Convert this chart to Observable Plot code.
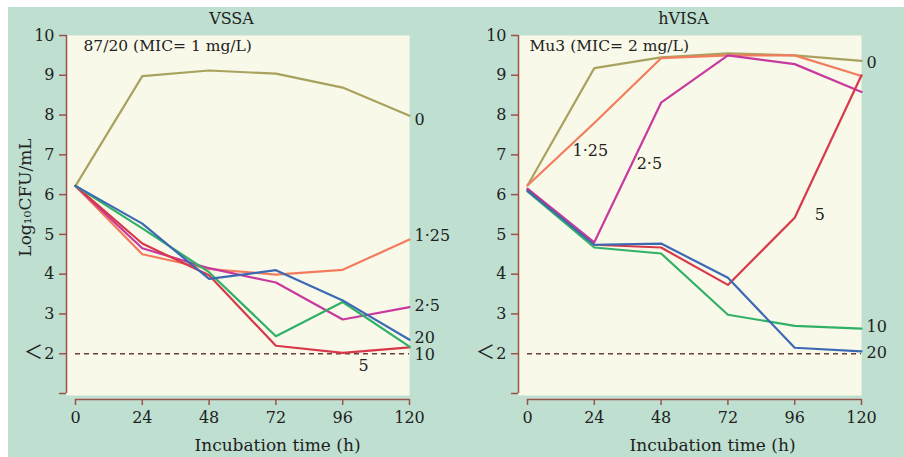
<!DOCTYPE html>
<html>
<head>
<meta charset="utf-8">
<script src="https://cdn.jsdelivr.net/npm/d3@7"></script>
<script src="https://cdn.jsdelivr.net/npm/@observablehq/plot@0.6"></script>
<style>
  html, body { margin: 0; padding: 0; background: #ffffff; }
  #wrap { position: relative; width: 904px; height: 457px; overflow: hidden; background: #ffffff; }
  #mint { position: absolute; left: 8px; top: 7px; right: 0; bottom: 0; background: #bfe0d1; }
  .panel { position: absolute; top: 0; }
</style>
</head>
<body>
<div id="wrap">
  <div id="mint"></div>
  <div class="panel" id="p1" style="left:0px"></div>
  <div class="panel" id="p2" style="left:452px"></div>
</div>
<script>
// ---- data ----
const hours = [0, 24, 48, 72, 96, 120];
const seriesNames = ["0", "1·25", "2·5", "5", "10", "20"];

// VSSA 87/20 (MIC = 1 mg/L)
const vssa0   = [6.22, 8.98, 9.12, 9.04, 8.69, 7.98];
const vssa125 = [6.22, 4.50, 4.13, 3.99, 4.11, 4.87];
const vssa25  = [6.22, 4.65, 4.15, 3.79, 2.86, 3.17];
const vssa5   = [6.22, 4.77, 3.97, 2.20, 2.02, 2.16];
const vssa10  = [6.22, 5.15, 4.05, 2.44, 3.30, 2.18];
const vssa20  = [6.22, 5.27, 3.88, 4.10, 3.34, 2.35];

// hVISA Mu3 (MIC = 2 mg/L)
const hvisa0   = [6.23, 9.18, 9.45, 9.55, 9.50, 9.36];
const hvisa125 = [6.23, 7.80, 9.43, 9.50, 9.50, 8.98];
const hvisa25  = [6.15, 4.80, 8.31, 9.50, 9.28, 8.58];
const hvisa5   = [6.12, 4.74, 4.67, 3.73, 5.42, 9.00];
const hvisa10  = [6.08, 4.67, 4.52, 2.98, 2.70, 2.63];
const hvisa20  = [6.10, 4.74, 4.77, 3.91, 2.15, 2.06];

const yTicks = [1, 2, 3, 4, 5, 6, 7, 8, 9, 10];
const yTickLabels = ["", "2", "3", "4", "5", "6", "7", "8", "9", "10"];
const xTicks = [0, 24, 48, 72, 96, 120];
const detectionLimit = 2;
const limitSymbol = "＜";

const panelTitles = ["VSSA", "hVISA"];
const panelNotes = ["87/20 (MIC= 1 mg/L)", "Mu3 (MIC= 2 mg/L)"];
const xLabel = "Incubation time (h)";
const yLabel = "Log₁₀CFU/mL";

// end-of-line labels (at 120 h) and in-plot labels
const vssaEndNames  = ["0", "1·25", "2·5", "20", "10"];
const vssaEndValues = [7.89, 4.97, 3.21, 2.41, 1.96];
const vssaInNames   = ["5"];
const vssaInHours   = [103.5];
const vssaInValues  = [1.70];

const hvisaEndNames  = ["0", "10", "20"];
const hvisaEndValues = [9.30, 2.68, 2.03];
const hvisaInNames   = ["1·25", "2·5", "5"];
const hvisaInHours   = [22.6, 43.8, 105];
const hvisaInValues  = [7.10, 6.78, 5.48];

// ---- styles ----
const seriesColors = ["#a9a25f", "#f27c5e", "#c8399f", "#d8394a", "#30b167", "#3b69b4"];
const axisColor = "#9b5248";
const textColor = "#222222";
const plotBg = "#f9f9e9";
const serif = "'DejaVu Serif', serif";

function toRows(series) {
  const rows = [];
  series.forEach((vals, si) => {
    vals.forEach((v, i) => rows.push({series: seriesNames[si], hour: hours[i], value: v}));
  });
  return rows;
}

function panel(idx, rows, endNames, endValues, inNames, inHours, inValues, showYLabel, xLabelDx) {
  const endRows = endNames.map((n, i) => ({name: n, hour: 120, value: endValues[i]}));
  const inRows = inNames.map((n, i) => ({name: n, hour: inHours[i], value: inValues[i]}));
  const yLabRows = yTicks.map((t, i) => ({t, label: yTickLabels[i]}));
  const txt = {fill: textColor, fontFamily: serif, lineAnchor: "middle"};
  const marks = [
    Plot.frame({fill: plotBg, stroke: null, insetLeft: -9, insetBottom: -2}),
    Plot.ruleY([detectionLimit], {stroke: "#6e3f37", strokeDasharray: "5,4", strokeWidth: 1.5}),
    Plot.line(rows, {x: "hour", y: "value", z: "series", stroke: "series", strokeWidth: 2.2, strokeLinejoin: "round"}),
    Plot.axisY({ticks: yTicks, tickFormat: () => "", tickSize: 7, dx: -9, stroke: axisColor, strokeWidth: 1.5, label: null}),
    Plot.text(yLabRows, {y: "t", text: "label", frameAnchor: "left", textAnchor: "end", dx: -21, fontSize: 16, ...txt}),
    Plot.text([detectionLimit], {y: d => d, text: () => limitSymbol, frameAnchor: "left", textAnchor: "middle", dx: -42, dy: -1, fontSize: 19, fill: textColor, lineAnchor: "middle", fontFamily: "'Noto Sans CJK SC', sans-serif"}),
    Plot.ruleX([0], {dx: -9, stroke: axisColor, strokeWidth: 1.5}),
    Plot.axisX({ticks: xTicks, tickFormat: () => "", tickSize: 6, dy: 6, stroke: axisColor, strokeWidth: 1.5, label: null}),
    Plot.text(xTicks, {x: d => d, text: d => String(d), frameAnchor: "bottom", textAnchor: "middle", dy: 24, fontSize: 16, ...txt}),
    Plot.ruleY([1], {dy: 6, stroke: axisColor, strokeWidth: 1.5}),
    Plot.text([panelTitles[idx]], {text: d => d, frameAnchor: "top", textAnchor: "middle", dx: -11, dy: -17, fontSize: 16, ...txt}),
    Plot.text([panelNotes[idx]], {text: d => d, frameAnchor: "top-left", textAnchor: "start", dx: idx === 0 ? 8 : 2, dy: 11, fontSize: 15.5, ...txt}),
    Plot.text([xLabel], {text: d => d, frameAnchor: "bottom", textAnchor: "middle", dx: xLabelDx, dy: 52, fontSize: 17, ...txt}),
    Plot.text(endRows, {x: "hour", y: "value", text: "name", textAnchor: "start", dx: 5, fontSize: 16, ...txt}),
    Plot.text(inRows, {x: "hour", y: "value", text: "name", textAnchor: "middle", fontSize: 16, ...txt})
  ];
  if (showYLabel) {
    marks.push(Plot.text([yLabel], {text: d => d, frameAnchor: "left", textAnchor: "middle", rotate: -90, dx: -50, dy: -17, fontSize: 17, ...txt}));
  }
  return Plot.plot({
    width: 452,
    height: 457,
    marginLeft: 75,
    marginRight: 43,
    marginTop: 35,
    marginBottom: 64,
    style: {background: "transparent", fontFamily: serif, fontSize: "15px", color: textColor, overflow: "visible"},
    x: {domain: [0, 120]},
    y: {domain: [1, 10]},
    color: {domain: seriesNames, range: seriesColors},
    marks
  });
}

const vssaRows = toRows([vssa0, vssa125, vssa25, vssa5, vssa10, vssa20]);
const hvisaRows = toRows([hvisa0, hvisa125, hvisa25, hvisa5, hvisa10, hvisa20]);

document.getElementById("p1").appendChild(
  panel(0, vssaRows, vssaEndNames, vssaEndValues, vssaInNames, vssaInHours, vssaInValues, true, 35));
document.getElementById("p2").appendChild(
  panel(1, hvisaRows, hvisaEndNames, hvisaEndValues, hvisaInNames, hvisaInHours, hvisaInValues, false, 18));
</script>
</body>
</html>
